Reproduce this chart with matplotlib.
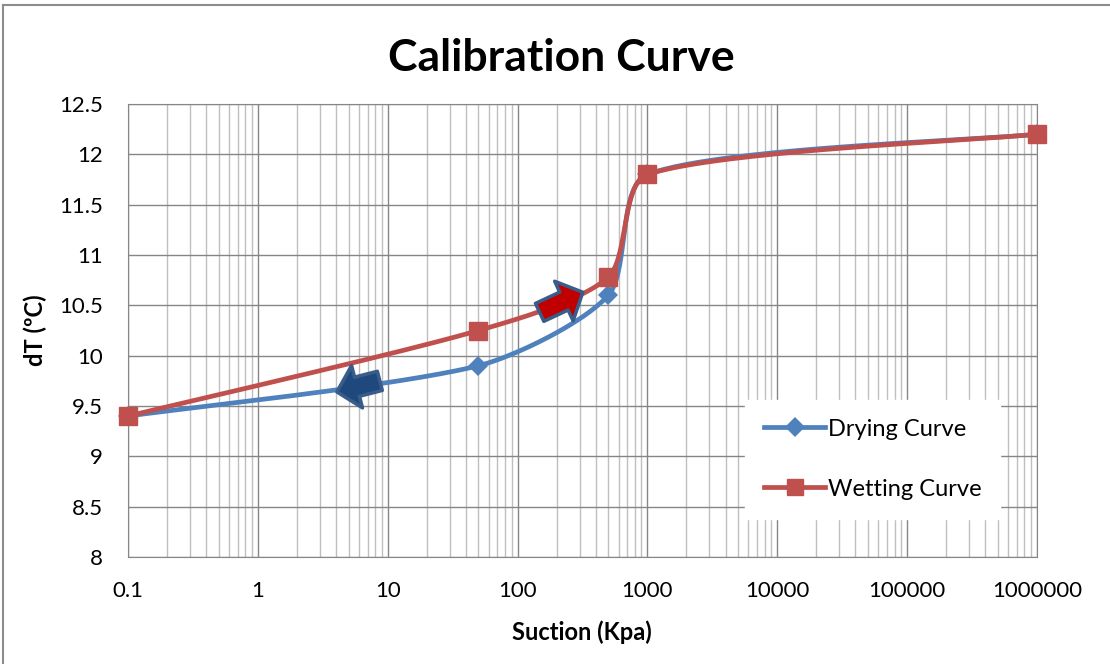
import numpy as np
import matplotlib
matplotlib.use("Agg")
import matplotlib.pyplot as plt
from matplotlib.lines import Line2D
from matplotlib.ticker import LogLocator, NullFormatter, FixedLocator

# --- data ---
suction = [0.1, 50, 500, 1000, 1000000]
drying = [9.4, 9.9, 10.6, 11.8, 12.2]
wetting = [9.4, 10.25, 10.78, 11.8, 12.2]
x_ticks = [0.1, 1, 10, 100, 1000, 10000, 100000, 1000000]
x_tick_labels = ["0.1", "1", "10", "100", "1000", "10000", "100000", "1000000"]
y_ticks = [8, 8.5, 9, 9.5, 10, 10.5, 11, 11.5, 12, 12.5]
y_tick_labels = ["8", "8.5", "9", "9.5", "10", "10.5", "11", "11.5", "12", "12.5"]

BLUE = "#4F81BD"
RED = "#C0504D"
FONT = "Lato"

plt.rcParams["font.family"] = [FONT, "DejaVu Sans"]

fig = plt.figure(figsize=(11.1, 6.64), dpi=100)
ax = fig.add_axes([0.1153, 0.1611, 0.8189, 0.6823])
ax.set_xscale("log")
ax.set_xlim(0.1, 1000000)
ax.set_ylim(8, 12.5)

# chart border (only top and left edges show in the crop)
fig.add_artist(Line2D([0.003, 1.0], [0.993, 0.993], transform=fig.transFigure,
                      color="#8C8C8C", linewidth=1.5))
fig.add_artist(Line2D([0.003, 0.003], [0.0, 0.993], transform=fig.transFigure,
                      color="#8C8C8C", linewidth=1.5))


def smooth_line(xs, ys, n=60):
    # Excel-like smoothed line, built in pixel space
    pts = ax.transData.transform(np.column_stack([xs, ys]))
    out = []
    for i in range(len(pts) - 1):
        p0 = pts[max(i - 1, 0)]
        p1 = pts[i]
        p2 = pts[i + 1]
        p3 = pts[min(i + 2, len(pts) - 1)]
        lim = np.hypot(*(p2 - p1)) * 0.25
        d1 = (p2 - p0) / 6.0
        d2 = (p3 - p1) / 6.0
        if np.hypot(*d1) > lim:
            d1 = d1 / np.hypot(*d1) * lim
        if np.hypot(*d2) > lim:
            d2 = d2 / np.hypot(*d2) * lim
        c1 = p1 + d1
        c2 = p2 - d2
        t = np.linspace(0, 1, n)[:, None]
        seg = ((1 - t) ** 3) * p1 + 3 * ((1 - t) ** 2) * t * c1 + 3 * (1 - t) * t ** 2 * c2 + t ** 3 * p2
        out.append(seg if i == 0 else seg[1:])
    path = np.vstack(out)
    data = ax.transData.inverted().transform(path)
    return data[:, 0], data[:, 1]


# gridlines
ax.xaxis.set_major_locator(FixedLocator(x_ticks))
ax.xaxis.set_minor_locator(LogLocator(base=10, subs=np.arange(2, 10)))
ax.xaxis.set_minor_formatter(NullFormatter())
ax.set_xticks(x_ticks)
ax.set_xticklabels(x_tick_labels)
ax.set_yticks(y_ticks)
ax.set_yticklabels(y_tick_labels)
ax.grid(True, which="major", color="#868686", linewidth=1.0)
ax.grid(True, which="minor", axis="x", color="#BFBFBF", linewidth=1.0)
ax.set_axisbelow(True)
ax.tick_params(which="both", length=0)
ax.tick_params(axis="x", pad=17, labelsize=16)
ax.tick_params(axis="y", pad=18, labelsize=16)
for s in ax.spines.values():
    s.set_color("#868686")

# curves
dx, dy = smooth_line(suction, drying)
ax.plot(dx, dy, color=BLUE, linewidth=3.4, solid_capstyle="butt", zorder=3, clip_on=False)
ax.plot(suction, drying, linestyle="none", marker="D", markersize=10.5, markeredgewidth=0,
        color=BLUE, zorder=3, clip_on=False)
wx, wy = smooth_line(suction, wetting)
ax.plot(wx, wy, color=RED, linewidth=3.4, solid_capstyle="butt", zorder=4, clip_on=False)
ax.plot(suction, wetting, linestyle="none", marker="s", markersize=12.5, color=RED,
        zorder=4, clip_on=False)

# legend proxies
ax.plot([], [], color=BLUE, linewidth=3.4, marker="D", markersize=10.5, markeredgewidth=0,
        label="Drying Curve")
ax.plot([], [], color=RED, linewidth=3.4, marker="s", markersize=12, label="Wetting Curve")
leg = ax.legend(loc="upper left", bbox_to_anchor=(0.679, 0.347), frameon=True, fancybox=False,
                fontsize=17, labelspacing=1.65, handlelength=2.6, handletextpad=0.1,
                borderpad=0.8, borderaxespad=0)
leg.get_frame().set_facecolor("white")
leg.get_frame().set_edgecolor("white")
leg.get_frame().set_alpha(1)

# block arrows
arrow_style = "simple,head_length=1.0,head_width=2.1,tail_width=0.95"
ax.annotate("", xy=(4.06, 9.64), xytext=(8.7, 9.75),
            arrowprops=dict(arrowstyle=arrow_style, mutation_scale=15,
                            facecolor="#1F497D", edgecolor="#385D8A",
                            linewidth=2.5, shrinkA=0, shrinkB=0), zorder=6)
ax.annotate("", xy=(318, 10.63), xytext=(148, 10.43),
            arrowprops=dict(arrowstyle=arrow_style, mutation_scale=15,
                            facecolor="#C00000", edgecolor="#385D8A",
                            linewidth=2.5, shrinkA=0, shrinkB=0), zorder=6)

# titles
fig.text(0.506, 0.9127, "Calibration Curve", ha="center", va="center",
         fontsize=32, fontweight="bold")
fig.text(0.524, 0.048, "Suction (Kpa)", ha="center", va="center",
         fontsize=17, fontweight="bold")
fig.text(0.0315, 0.502, "dT (ºC)", ha="center", va="center", rotation=90,
         fontsize=17, fontweight="bold")

fig.savefig("out.png", dpi=100)
